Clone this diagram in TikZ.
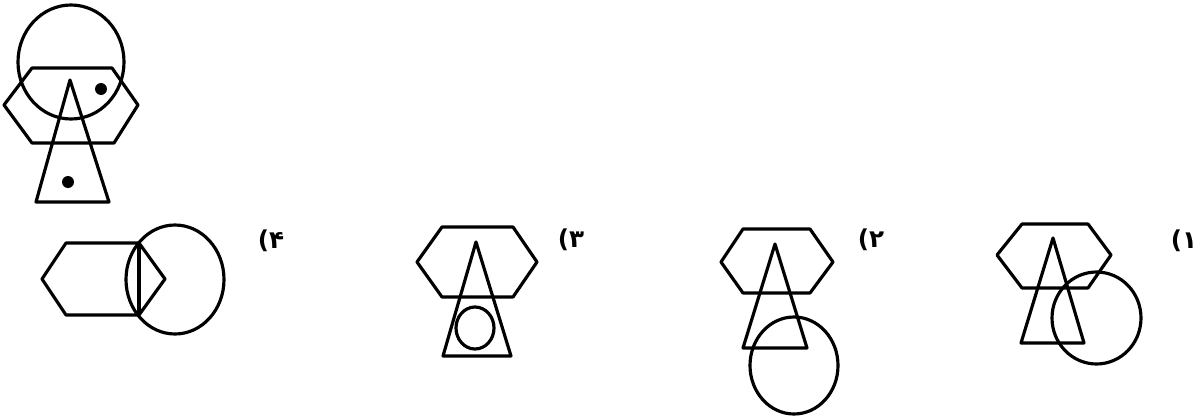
\documentclass[tikz,border=0pt]{standalone}
\usepackage{fontspec}
\newfontfamily\arabicfont[Script=Arabic]{DejaVu Sans}
\TeXXeTstate=1
\usepackage{tikz}

\begin{document}
\begin{tikzpicture}[x=0.02cm, y=-0.02cm,
    fig/.style={line width=1.8pt, line join=round},
    spot/.style={fill=black},
    choice/.style={font=\arabicfont\bfseries\fontsize{14}{16}\selectfont, inner sep=0pt}]

  \useasboundingbox (0,0) rectangle (1200,419);

  % the question
  \draw[fig] (71,62) ellipse (53 and 57);
  \draw[fig] (32,68) -- (112,68) -- (138,105) -- (114,143) -- (32,143) -- (4,105) -- cycle;
  \draw[fig] (70,80) -- (109,202) -- (36,202) -- cycle;
  \fill[spot] (101,89) circle (6);
  \fill[spot] (68,182) circle (6);

  % choice 4
  \draw[fig] (66,243) -- (139,243) -- (165,279) -- (139,315) -- (66,315) -- (42,279) -- cycle;
  \draw[fig] (139,243) -- (139,315);
  \draw[fig] (175,279.5) ellipse (49 and 54.5);
  \node[choice] (lab4) at (271,241) {\beginR ۴)\endR};

  % choice 3
  \draw[fig] (442,227) -- (513,227) -- (537,262) -- (513,297) -- (442,297) -- (417,262) -- cycle;
  \draw[fig] (476,242) -- (511,356) -- (443,356) -- cycle;
  \draw[fig] (475,328) ellipse (19 and 21);
  \node[choice] (lab3) at (571,240) {\beginR ۳)\endR};

  % choice 2
  \draw[fig] (743,229) -- (810,229) -- (833,262) -- (810,293) -- (743,293) -- (721,262) -- cycle;
  \draw[fig] (775,244) -- (807,348) -- (743,348) -- cycle;
  \draw[fig] (794,365.5) ellipse (44 and 48.5);
  \node[choice] (lab2) at (871,240) {\beginR ۲)\endR};

  % choice 1
  \draw[fig] (1022,224) -- (1088,224) -- (1111,255) -- (1088,288) -- (1022,288) -- (997,255) -- cycle;
  \draw[fig] (1053,238) -- (1084,343) -- (1021,343) -- cycle;
  \draw[fig] (1096.5,318) ellipse (44.5 and 46);
  \node[choice] (lab1) at (1184,241) {\beginR ۱)\endR};

\end{tikzpicture}
\end{document}
